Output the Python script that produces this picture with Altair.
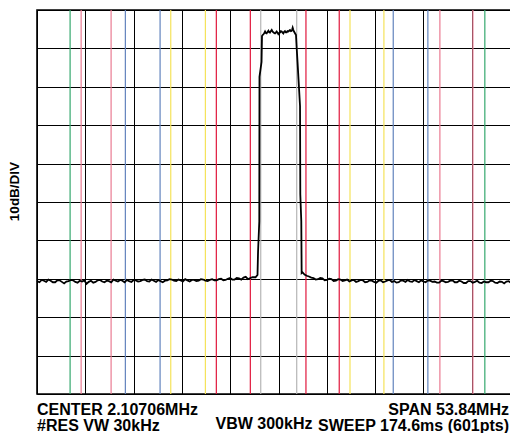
import altair as alt
import pandas as pd

# ---- Trace: frequency offset from centre (MHz) and level (dB, 0 dB = top graticule line)
floor_left_mhz = [-26.92, -26.65, -26.40, -26.15, -25.90, -25.65, -25.40, -25.15, -24.90, -24.65,
                  -24.40, -24.15, -23.90, -23.65, -23.40, -23.15, -22.90, -22.65, -22.40, -22.15,
                  -21.90, -21.65, -21.40, -21.15, -20.90, -20.65, -20.40, -20.15, -19.90, -19.65,
                  -19.40, -19.15, -18.90, -18.65, -18.40, -18.15, -17.90, -17.65, -17.40, -17.15,
                  -16.90, -16.65, -16.40, -16.15, -15.90, -15.65, -15.40, -15.15, -14.90, -14.65,
                  -14.40, -14.15, -13.90, -13.65, -13.40, -13.15, -12.90, -12.65, -12.40, -12.15,
                  -11.90, -11.65, -11.40, -11.15, -10.90, -10.65, -10.40, -10.15, -9.90, -9.65,
                  -9.40, -9.15, -8.90, -8.65, -8.40, -8.15, -7.90, -7.65, -7.40, -7.15,
                  -6.90, -6.65, -6.40, -6.15, -5.90, -5.65, -5.40, -5.15, -4.90, -4.65,
                  -4.40, -4.15, -3.90, -3.65, -3.40, -3.15, -2.90]
floor_left_db = [-70.6, -70.9, -70.3, -70.5, -70.8, -70.2, -70.5, -70.9, -70.9, -70.4,
                 -70.4, -70.8, -71.2, -70.7, -70.6, -70.3, -70.4, -70.8, -71.0, -70.5,
                 -70.7, -70.4, -71.3, -70.8, -70.5, -71.0, -70.8, -70.4, -70.3, -70.7,
                 -70.9, -70.5, -70.6, -70.9, -70.2, -70.5, -70.7, -70.3, -70.5, -70.9,
                 -70.3, -70.6, -70.8, -70.3, -70.4, -70.7, -70.6, -70.3, -70.2, -70.6,
                 -70.7, -70.2, -70.5, -70.8, -70.3, -70.6, -70.9, -70.5, -70.4, -70.1,
                 -70.2, -70.5, -70.6, -70.2, -70.4, -70.7, -70.1, -70.4, -70.7, -70.3,
                 -70.3, -70.6, -70.5, -70.1, -70.2, -70.5, -70.6, -70.3, -70.1, -70.4,
                 -70.4, -70.1, -70.0, -70.4, -70.3, -70.0, -69.8, -70.2, -70.2, -69.8,
                 -69.9, -70.2, -69.7, -69.5, -70.1, -69.8, -69.6]
edge_left_mhz = [-2.56, -2.34, -2.28, -2.14, -2.12, -1.89, -1.84]
edge_left_db = [-69.6, -69.0, -63.0, -55.0, -17.4, -13.5, -6.8]
top_mhz = [-1.76, -1.63, -1.50, -1.41, -1.32, -1.22, -1.13, -1.04, -0.95, -0.86,
           -0.76, -0.67, -0.58, -0.48, -0.39, -0.30, -0.20, -0.11, -0.02, 0.08,
           0.17, 0.26, 0.35, 0.45, 0.54, 0.63, 0.72, 0.82, 0.91, 1.00,
           1.10, 1.19, 1.28, 1.38, 1.47, 1.53, 1.58, 1.66, 1.73]
top_db = [-6.5, -6.2, -5.6, -6.0, -6.1, -5.7, -5.4, -5.8, -5.9, -5.5,
          -5.2, -5.6, -5.8, -6.0, -6.1, -5.9, -5.6, -5.9, -6.3, -6.0,
          -5.9, -5.5, -5.6, -5.9, -6.1, -5.7, -5.5, -5.8, -5.8, -5.5,
          -5.6, -5.4, -5.2, -5.5, -5.4, -5.0, -4.6, -5.2, -5.6]
edge_right_mhz = [1.95, 2.03, 2.12, 2.23, 2.40, 2.43, 2.54, 2.58, 2.67]
edge_right_db = [-6.5, -10.0, -13.5, -18.0, -25.0, -48.0, -55.0, -68.5, -68.3]
floor_right_mhz = [2.90, 3.15, 3.40, 3.65, 3.90, 4.15, 4.40, 4.65, 4.90, 5.15,
                   5.40, 5.65, 5.90, 6.15, 6.40, 6.65, 6.90, 7.15, 7.40, 7.65,
                   7.90, 8.15, 8.40, 8.65, 8.90, 9.15, 9.40, 9.65, 9.90, 10.15,
                   10.40, 10.65, 10.90, 11.15, 11.40, 11.65, 11.90, 12.15, 12.40, 12.65,
                   12.90, 13.15, 13.40, 13.65, 13.90, 14.15, 14.40, 14.65, 14.90, 15.15,
                   15.40, 15.65, 15.90, 16.15, 16.40, 16.65, 16.90, 17.15, 17.40, 17.65,
                   17.90, 18.15, 18.40, 18.65, 18.90, 19.15, 19.40, 19.65, 19.90, 20.15,
                   20.40, 20.65, 20.90, 21.15, 21.40, 21.65, 21.90, 22.15, 22.40, 22.65,
                   22.90, 23.15, 23.40, 23.65, 23.90, 24.15, 24.40, 24.65, 24.90, 25.15,
                   25.40, 25.65, 25.90, 26.15, 26.40, 26.65, 26.92]
floor_right_db = [-68.9, -69.2, -69.4, -69.7, -69.8, -70.2, -70.1, -69.8, -69.9, -70.4,
                  -70.3, -70.0, -70.1, -70.6, -70.5, -70.1, -70.2, -70.6, -70.4, -70.2,
                  -70.7, -70.4, -70.3, -70.8, -70.6, -70.3, -70.4, -70.9, -70.8, -70.4,
                  -70.5, -70.8, -71.0, -70.5, -70.4, -70.9, -70.7, -70.4, -70.3, -70.8,
                  -70.6, -71.0, -70.9, -70.4, -70.5, -70.8, -70.3, -70.7, -70.8, -70.3,
                  -70.6, -70.9, -70.4, -70.7, -70.9, -70.4, -70.5, -70.8, -70.7, -71.0,
                  -71.0, -70.5, -70.6, -70.9, -70.8, -70.5, -70.4, -70.9, -70.9, -70.5,
                  -70.7, -71.1, -71.1, -70.6, -70.6, -71.0, -70.8, -70.5, -71.0, -71.1,
                  -70.7, -70.9, -70.9, -70.5, -70.6, -71.0, -71.1, -70.7, -70.8, -71.2,
                  -70.7, -70.6, -71.0, -70.8, -70.8, -71.1, -70.9]

# ---- Coloured marker lines (MHz offset from centre) and their kind
marker_mhz = [-23.23, -22.0, -18.66, -17.07, -13.20, -12.01, -8.15, -6.93, -3.14, -1.98,
              2.03, 3.06, 6.77, 7.97, 11.75, 12.79, 16.65, 17.99, 21.67, 23.00]
marker_kind = ["green", "pink", "pink", "blue", "blue", "yellow", "yellow", "red", "red", "gray",
               "gray", "red", "red", "yellow", "yellow", "blue", "blue", "pink", "pink", "green"]
kind_names = ["green", "pink", "blue", "yellow", "red", "gray"]
kind_colors = ["#35a86e", "#ea7b92", "#6283bd", "#f5e35a", "#e0173c", "#b5b5b5"]

# ---- Graticule (10 divisions each way)
x_grid = [-26.92, -21.536, -16.152, -10.768, -5.384, 0.0, 5.384, 10.768, 16.152, 21.536, 26.92]
y_grid = [0, -10, -20, -30, -40, -50, -60, -70, -80, -90, -100]

label_center = "CENTER 2.10706MHz"
label_res = "#RES VW 30kHz"
label_vbw = "VBW 300kHz"
label_span = "SPAN 53.84MHz"
label_sweep = "SWEEP 174.6ms (601pts)"
label_y = "10dB/DIV"

mhz = floor_left_mhz + edge_left_mhz + top_mhz + edge_right_mhz + floor_right_mhz
db = floor_left_db + edge_left_db + top_db + edge_right_db + floor_right_db
assert len(floor_left_mhz) == len(floor_left_db)
assert len(floor_right_mhz) == len(floor_right_db)
assert len(top_mhz) == len(top_db)
trace_df = pd.DataFrame({"mhz": mhz, "db": db, "i": list(range(len(mhz)))})
marker_df = pd.DataFrame({"mhz": marker_mhz, "kind": marker_kind})

W, H = 483, 384
x_scale = alt.Scale(domain=[-26.92, 26.92], nice=False, zero=False)
y_scale = alt.Scale(domain=[-100, 0], nice=False, zero=False)
x_axis = alt.Axis(values=x_grid, grid=True, gridColor="#000000", gridWidth=1, gridOpacity=1,
                  labels=False, ticks=False, domain=False, title=None)
y_axis = alt.Axis(values=y_grid, grid=True, gridColor="#000000", gridWidth=1.1, gridOpacity=1,
                  labels=False, ticks=False, domain=False, title=None)

markers = alt.Chart(marker_df).mark_rule(strokeWidth=1.2).encode(
    x=alt.X("mhz:Q", scale=x_scale, axis=x_axis),
    color=alt.Color("kind:N", scale=alt.Scale(domain=kind_names, range=kind_colors), legend=None),
)
ygrid = alt.Chart(pd.DataFrame({"db": [-100, 0]})).mark_point(opacity=0).encode(
    y=alt.Y("db:Q", scale=y_scale, axis=y_axis),
)
trace = alt.Chart(trace_df).mark_line(color="#000000", strokeWidth=1.8).encode(
    x=alt.X("mhz:Q", scale=x_scale, axis=x_axis),
    y=alt.Y("db:Q", scale=y_scale, axis=y_axis),
    order="i:Q",
)

def txt(s, x, y, align, angle=0, size=16):
    return alt.Chart(pd.DataFrame({"label": [s]})).mark_text(
        font="Liberation Sans", fontWeight="bold", fontSize=size, align=align,
        baseline="alphabetic", angle=angle, color="#000000",
    ).encode(text="label:N", x=alt.value(x), y=alt.value(y))

texts = [
    txt(label_center, 0, 404.8, "left"),
    txt(label_res, 0, 420.8, "left"),
    txt(label_span, 472, 404.8, "right"),
    txt(label_sweep, 472, 420.8, "right"),
    txt(label_vbw, 227, 418.5, "center"),
    txt(label_y, -18, 181.5, "center", angle=270, size=13.5),
]

chart = alt.layer(markers, ygrid, trace, *texts).properties(
    width=W, height=H,
    autosize=alt.AutoSizeParams(type="none"),
    padding={"left": 29, "top": 2, "right": -10, "bottom": 39},
    background="white",
).configure_view(stroke="#000000", strokeWidth=1.6)

chart.save("out.html", embed_options={"renderer": "svg", "actions": False})
